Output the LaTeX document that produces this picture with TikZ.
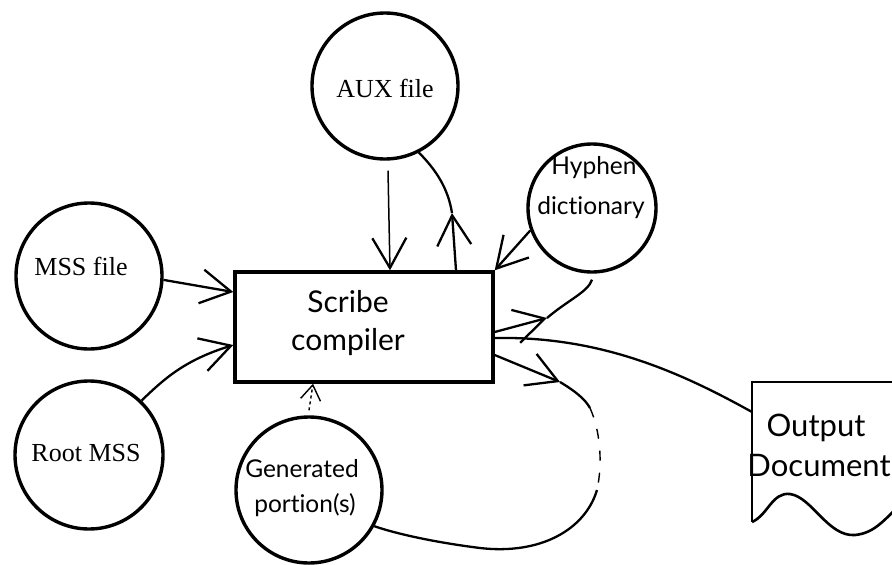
\documentclass[tikz,border=0pt]{standalone}
\usepackage{fontspec}
\setmainfont{Liberation Serif}
\newfontfamily\sansf[RawFeature={-liga;-clig;-dlig}]{Lato}
\usetikzlibrary{arrows.meta,calc}
\begin{document}
\begin{tikzpicture}[x=1pt,y=-1pt,
  circ/.style={circle,draw,line width=3.4pt,inner sep=0pt},
  conn/.style={line width=2.3pt},
  barb/.style={-{Straight Barb[length=30pt,width=34pt,line width=2.3pt]}},
  sbarb/.style={-{Straight Barb[length=15pt,width=20pt,line width=1.4pt]}},
  serift/.style={font=\fontsize{26}{30}\selectfont},
  sanst/.style={font=\sansf\fontsize{24.5}{28}\selectfont},
  bigt/.style={font=\sansf\fontsize{30}{34}\selectfont},
  doct/.style={font=\sansf\fontsize{31}{36}\selectfont}]
\useasboundingbox (0,0) rectangle (892,565);
\clip (0,0) rectangle (892,565);
% circles
\node[circ,minimum size=146pt] (aux) at (385,86) {};
\node[circ,minimum size=146pt] (mss) at (89,276) {};
\node[circ,minimum size=148pt] (root) at (89,455) {};
\node[circ,minimum size=146pt] (gen) at (309,490) {};
\node[circ,minimum size=128pt] (hyph) at (592,208) {};
% box
\node[draw,line width=3.4pt,minimum width=258pt,minimum height=110pt,inner sep=0pt] (box) at (364,327) {};
% texts
\node[serift] (auxt) at (385,88) {AUX file};
\node[serift] (msst) at (81,266) {MSS file};
\node[serift] (roott) at (86,453) {Root MSS};
\node[sanst] (gent1) at (302,469) {Generated};
\node[sanst] (gent2) at (305,505) {portion(s)};
\node[sanst] (hypht1) at (594,168) {Hyphen};
\node[sanst] (hypht2) at (591,208) {dictionary};
\node[bigt] (boxt1) at (348,302) {Scribe};
\node[bigt] (boxt2) at (348,342) {compiler};
% output document
\draw[line width=2.4pt] (752,522) -- (752,382) -- (905,382);
\draw[line width=2.6pt] (752,522) .. controls (768,515) and (772,492) .. (790,494)
  .. controls (812,497) and (828,537) .. (855,535)
  .. controls (875,533) and (884,520) .. (905,500);
\coordinate (doc) at (752,412);
\node[doct] (outt1) at (816,428) {Output};
\node[doct] (outt2) at (819,466) {Document};
% connectors
\draw[conn,barb] (mss.-3) -- ([yshift=35pt]box.west);
\draw[conn,barb] (root.46) .. controls (165,378) and (185,360) .. ([yshift=-18pt]box.west);
\draw[line width=1.5pt,barb] ([xshift=3pt,yshift=-10pt]aux.south) -- ([xshift=26pt]box.north);
\coordinate (am) at (452,213);
\draw[conn,barb] ([xshift=92pt]box.north) -- (am);
\draw[conn] (am) .. controls (448,188) and (436,170) .. (aux.-63);
\draw[conn,barb] (hyph.200) -- (box.north east);
\coordinate (hm) at (547,318);
\draw[conn,barb] ([yshift=-5pt]box.east) -- (hm);
\draw[conn] (hm) .. controls (568,300) and (588,292) .. ([yshift=-6pt]hyph.south);
\draw[conn] ([yshift=-11pt]box.east) .. controls (600,336) and (680,372) .. (doc);
\coordinate (lm) at (560,382);
\coordinate (l1) at (590,408);
\coordinate (l2) at (597,490);
\draw[conn,barb] ([yshift=-28pt]box.east) -- (lm);
\draw[conn] (lm) .. controls (575,391) and (585,399) .. (l1);
\draw[line width=1.4pt,dash pattern=on 10pt off 12pt] (l1) .. controls (600,430) and (603,462) .. (l2);
\draw[conn] (l2) .. controls (585,530) and (540,555) .. (480,548) .. controls (440,543) and (400,535) .. (gen.-29);
\draw[line width=1.4pt,dashed,sbarb] ([yshift=5pt]gen.north) -- ([xshift=-51pt]box.south);
\end{tikzpicture}
\end{document}
